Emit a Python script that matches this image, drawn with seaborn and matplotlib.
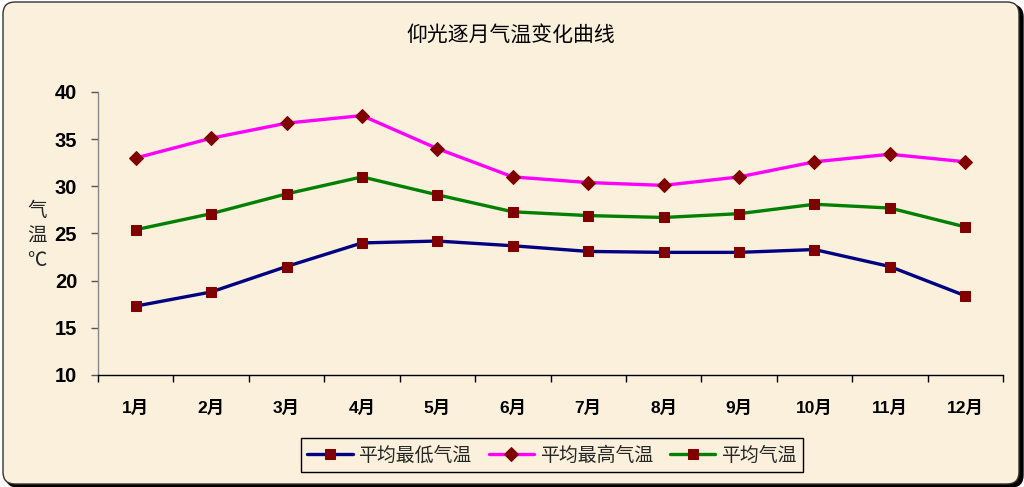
import matplotlib
matplotlib.use("Agg")
import matplotlib.pyplot as plt
from matplotlib.patches import FancyBboxPatch
from matplotlib.ticker import FixedLocator, NullFormatter
import seaborn as sns
import pandas as pd

months = ["1月", "2月", "3月", "4月", "5月", "6月", "7月", "8月", "9月", "10月", "11月", "12月"]
avg_low = [17.3, 18.8, 21.5, 24.0, 24.2, 23.7, 23.1, 23.0, 23.0, 23.3, 21.5, 18.4]
avg_high = [33.0, 35.1, 36.7, 37.5, 34.0, 31.0, 30.4, 30.1, 31.0, 32.6, 33.4, 32.6]
avg_temp = [25.4, 27.1, 29.2, 31.0, 29.1, 27.3, 26.9, 26.7, 27.1, 28.1, 27.7, 25.7]
series_names = ["平均最低气温", "平均最高气温", "平均气温"]
title = "仰光逐月气温变化曲线"
ylabel = "气\n温\n℃"
yticks = [10, 15, 20, 25, 30, 35, 40]

sns.set_theme(style="white")
plt.rcParams["font.family"] = ["Liberation Sans", "Noto Sans CJK SC", "DejaVu Sans"]
cjk = ["Noto Sans CJK SC", "DejaVu Sans"]

BG = "#FAF0DC"
W, H = 10.24, 4.87
fig = plt.figure(figsize=(W, H), dpi=100)
fig.patch.set_facecolor("white")

# frame with shadow
px = 1 / 100
shadow = FancyBboxPatch((0.03 + 3 * px, 0.02 - 2 * px), 10.17, 4.82,
                        boxstyle="round,pad=0,rounding_size=0.12",
                        transform=fig.dpi_scale_trans, facecolor="black",
                        edgecolor="black", lw=1, zorder=-2)
frame = FancyBboxPatch((0.03, 0.03), 10.16, 4.82,
                       boxstyle="round,pad=0,rounding_size=0.12",
                       transform=fig.dpi_scale_trans, facecolor=BG,
                       edgecolor="#333333", lw=1, zorder=-1)
fig.patches.extend([shadow, frame])

ax = fig.add_axes([98 / 1024, (487 - 375) / 487, (1003 - 98) / 1024, (375 - 92) / 487])
ax.set_facecolor("none")
ax.set_zorder(1)

x = list(range(len(months)))
df = pd.DataFrame({"x": x * 3,
                   "v": avg_low + avg_high + avg_temp,
                   "s": [series_names[0]] * 12 + [series_names[1]] * 12 + [series_names[2]] * 12})

styles = [("#000080", "s", 7), ("#FF00FF", "D", 7.5), ("#008000", "s", 7)]
for name, (col, mk, ms) in zip(series_names, styles):
    sub = df[df["s"] == name]
    sns.lineplot(data=sub, x="x", y="v", ax=ax, color=col, lw=2.4, marker=mk,
                 markersize=ms, markerfacecolor="#800000", markeredgecolor="#800000",
                 label=name, zorder=3)

ax.set_xlim(-0.5, 11.5)
ax.set_ylim(10, 40)
ax.set_yticks(yticks)
ax.set_yticklabels([str(t) for t in yticks], fontsize=14.5, fontweight="bold", color="black")
ax.set_xticks(x)
ax.set_xticklabels(months, fontsize=12.5, fontweight="bold", color="black")
ax.xaxis.set_minor_locator(FixedLocator([i - 0.5 for i in range(13)]))
ax.xaxis.set_minor_formatter(NullFormatter())
ax.tick_params(axis="x", which="major", length=0, pad=18)
ax.tick_params(axis="x", which="minor", length=5, width=1, color="black", direction="out", bottom=True)
ax.tick_params(axis="y", which="major", length=5, width=1, color="#555555", direction="out", left=True, pad=10)
for sp in ["top", "right"]:
    ax.spines[sp].set_visible(False)
ax.spines["left"].set_color("#888888")
ax.spines["bottom"].set_color("black")
ax.spines["left"].set_linewidth(1)
ax.spines["bottom"].set_linewidth(1)
ax.set_xlabel("")
ax.set_ylabel(ylabel, rotation=0, fontsize=14, family=cjk, linespacing=1.25, va="center", ha="center")
ax.yaxis.set_label_coords((37 - 98) / 905, (375 - 236) / 283)

fig.text(511 / 1024, 1 - 35 / 487, title, ha="center", va="center", fontsize=15, family=cjk, color="black")

ax.get_legend().remove()
handles, labels = ax.get_legend_handles_labels()
leg = fig.legend(handles, labels, loc="center", bbox_to_anchor=(552 / 1024, 1 - 455 / 487),
                 ncol=3, frameon=True, fancybox=False, edgecolor="black", facecolor=BG,
                 framealpha=1, prop={"family": cjk, "size": 13.6}, handlelength=2.4,
                 handletextpad=0.3, columnspacing=0.9, borderpad=0.32, borderaxespad=0)
leg.get_frame().set_linewidth(1)

fig.savefig("out.png", dpi=100, facecolor=fig.get_facecolor())
